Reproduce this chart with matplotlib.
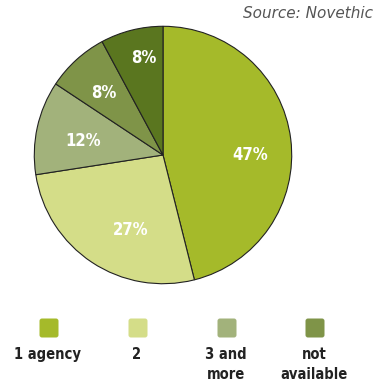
import numpy as np
import matplotlib.pyplot as plt
from matplotlib.patches import FancyBboxPatch

# share of funds by number of rating agencies used
shares = [47, 27, 12, 8, 8]
labels = ["47%", "27%", "12%", "8%", "8%"]
colors = ["#a5ba2a", "#d4dd88", "#a2b27b", "#7f9448", "#5a761f"]

legend_names = ["1 agency", "2", "3 and\nmore", "not\navailable"]
legend_colors = ["#a5ba2a", "#d4dd88", "#a2b27b", "#7f9448"]

# where each percentage sits inside the pie (unit radius)
label_pos = [(0.68, 0.0), (-0.25, -0.58), (-0.62, 0.11), (-0.46, 0.48), (-0.15, 0.75)]

W, H = 375.0, 382.0
fig = plt.figure(figsize=(W / 100, H / 100), dpi=100)

# pie, centred at about (163, 155) px with radius 130 px
cx, cy, r = 163, 155, 130
ax = fig.add_axes([(cx - r) / W, 1 - (cy + r) / H, 2 * r / W, 2 * r / H])
ax.pie(shares, colors=colors, startangle=90, counterclock=False,
       wedgeprops=dict(edgecolor="#222222", linewidth=0.8))
ax.set_xlim(-1.01, 1.01)
ax.set_ylim(-1.01, 1.01)
ax.set_aspect("equal")

for lab, (x, y) in zip(labels, label_pos):
    ax.text(x, y, lab, ha="center", va="center", color="white", fontsize=12,
            fontweight="bold", fontstretch="condensed")

fig.text(373 / W, 1 - 13 / H, "Source: Novethic", ha="right", va="center",
         fontsize=11, style="italic", color="#555555")

# legend row drawn in pixel coordinates
lax = fig.add_axes([0, 0, 1, 1])
lax.set_xlim(0, W)
lax.set_ylim(H, 0)
lax.axis("off")
xs = [49, 138, 227, 315]
for x, name, c in zip(xs, legend_names, legend_colors):
    lax.add_patch(FancyBboxPatch((x - 7, 321), 14, 14,
                                 boxstyle="round,pad=2.5", facecolor=c, edgecolor="none"))
    lax.text(x - 1, 347, name, ha="center", va="top", fontsize=10.5, fontweight="bold",
             fontstretch="condensed", color="#222222", linespacing=1.4)

fig.savefig("out.png", dpi=100)
